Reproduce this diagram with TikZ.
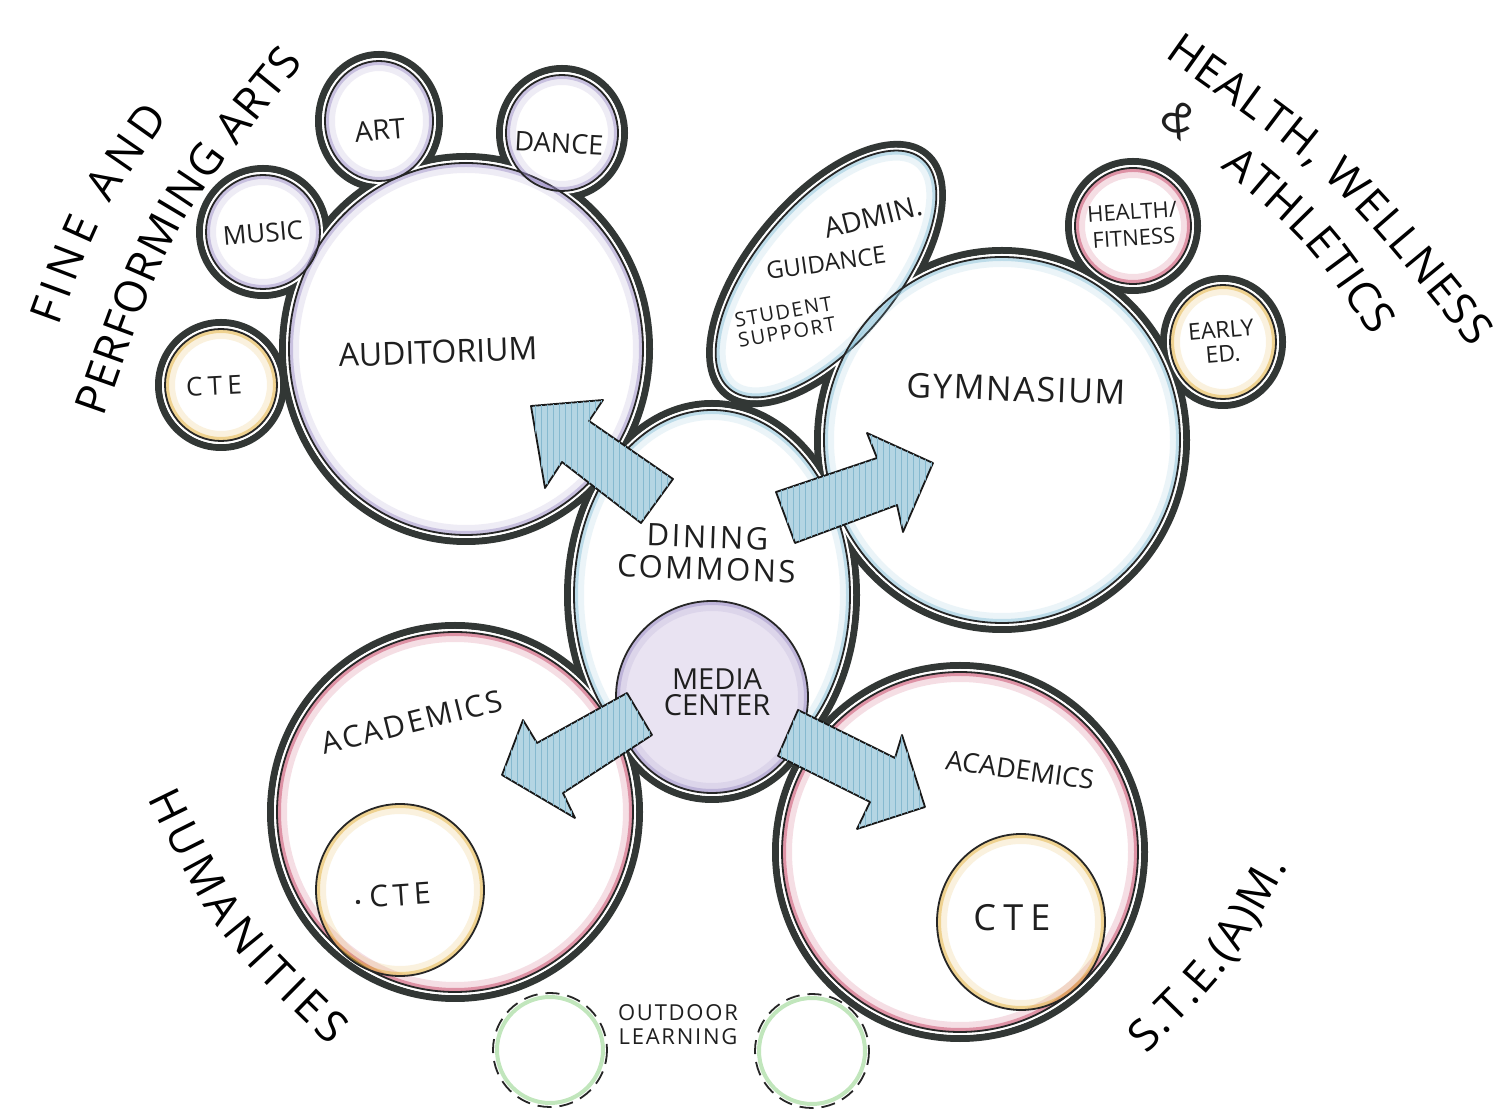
\documentclass[tikz,border=0pt]{standalone}
\usepackage{fontspec}
\setmainfont{Open Sans}
\usetikzlibrary{decorations.text,patterns}
\definecolor{inkdark}{HTML}{323735}
\definecolor{rimpurple}{HTML}{9A8CC6}
\definecolor{rimblue}{HTML}{86C0D8}
\definecolor{rimgold}{HTML}{E2AE33}
\definecolor{rimred}{HTML}{C2365A}
\definecolor{rimgreen}{HTML}{98D690}
\definecolor{arrowblue}{HTML}{B4D5E3}
\definecolor{arrowhatch}{HTML}{86B9CF}
\definecolor{mediafill}{HTML}{E9E3F2}
\tikzset{
  band/.style={draw=inkdark, line width=3.5pt},
  arrowshape/.style={fill=arrowblue, draw=black!90, line width=0.9pt, line join=round,
     postaction={pattern=vertical lines, pattern color=arrowhatch}},
  lab/.style={text=black!88, inner sep=0pt, align=center},
}
\newcommand{\OutBand}[4]{\draw[band, shift={(#1)}, rotate=#4] (0,0) ellipse [x radius={#2+6.5}, y radius={#3+6.5}];}
\newcommand{\OutFill}[4]{\fill[white, shift={(#1)}, rotate=#4] (0,0) ellipse [x radius={#2+3}, y radius={#3+3}];}
\newcommand{\Room}[5]{%
  \begin{scope}[shift={(#1)}, rotate=#4]
    \begin{scope}
      \clip (0,0) ellipse [x radius=#2, y radius=#3];
      \draw[#5, line width=10pt, opacity=.16] (0,0) ellipse [x radius=#2, y radius=#3];
      \draw[#5, line width=4pt, opacity=.45] (0,0) ellipse [x radius=#2, y radius=#3];
    \end{scope}
    \draw[black!85, line width=0.9pt] (0,0) ellipse [x radius=#2, y radius=#3];
  \end{scope}}
\newcommand{\Outdoor}[2]{%
  \begin{scope}
    \clip (#1) circle [radius=#2];
    \draw[rimgreen, line width=4pt, opacity=.6] (#1) circle [radius=#2];
  \end{scope}
  \draw[black!85, line width=0.9pt, dash pattern=on 7pt off 4pt] (#1) circle [radius={#2+2}];}
\newcommand{\bigfont}{\fontsize{22}{22}\selectfont}
\newcommand{\ArcText}[4]{\path[decorate, decoration={text along path, text={|\bigfont|#1}, text align={fit to path}}] (#2) .. controls (#3) .. (#4);}
\begin{document}
\begin{tikzpicture}[x=0.5pt,y=-0.5pt]
\useasboundingbox (0,0) rectangle (1511,1111);
\fill[white] (0,0) rectangle (1511,1111);

% ---- outer outline of the building (union of rooms)
\OutBand{466,349}{177}{186}{0}
\OutBand{263,232}{57}{57}{0}
\OutBand{379,121}{54}{60}{0}
\OutBand{562,133}{56}{58}{0}
\OutBand{221,385}{56}{56}{0}
\OutBand{826,274}{150}{70}{50}
\OutBand{1002,440}{178}{183}{0}
\OutBand{1133,226}{58}{58}{0}
\OutBand{1223,342}{53}{57}{0}
\OutBand{712,595}{138}{185}{0}
\OutBand{712,697}{96}{96}{0}
\OutBand{455,812}{178}{180}{0}
\OutBand{960,852}{178}{180}{0}

\OutFill{466,349}{177}{186}{0}
\OutFill{263,232}{57}{57}{0}
\OutFill{379,121}{54}{60}{0}
\OutFill{562,133}{56}{58}{0}
\OutFill{221,385}{56}{56}{0}
\OutFill{826,274}{150}{70}{50}
\OutFill{1002,440}{178}{183}{0}
\OutFill{1133,226}{58}{58}{0}
\OutFill{1223,342}{53}{57}{0}
\OutFill{712,595}{138}{185}{0}
\OutFill{712,697}{96}{96}{0}
\OutFill{455,812}{178}{180}{0}
\OutFill{960,852}{178}{180}{0}

% ---- rooms
\Room{466,349}{177}{186}{0}{rimpurple}
\Room{263,232}{57}{57}{0}{rimpurple}
\Room{379,121}{54}{60}{0}{rimpurple}
\Room{562,133}{56}{58}{0}{rimpurple}
\Room{221,385}{56}{56}{0}{rimgold}
\Room{826,274}{150}{70}{50}{rimblue}
\Room{1002,440}{178}{183}{0}{rimblue}
\Room{1133,226}{58}{58}{0}{rimred}
\Room{1223,342}{53}{57}{0}{rimgold}
\Room{712,595}{138}{185}{0}{rimblue}
\Room{455,812}{178}{180}{0}{rimred}
\Room{960,852}{178}{180}{0}{rimred}
\Room{400,890}{84}{86}{0}{rimgold}
\Room{1021,922}{84}{88}{0}{rimgold}
\fill[mediafill] (712,697) circle [radius=96];
\Room{712,697}{96}{96}{0}{rimpurple}

% ---- outdoor learning
\Outdoor{550,1050}{55}
\Outdoor{812,1051}{55}

% ---- arrows from the commons
\draw[arrowshape] (531,406) -- (603,400) -- (589,421) -- (673,479) -- (641,523) -- (562,462) -- (545,488) -- cycle;
\draw[arrowshape] (776,492) -- (877,458) -- (867,433) -- (933,463) -- (903,532) -- (897,505) -- (795,543) -- cycle;
\draw[arrowshape] (627,693) -- (537,743) -- (523,720) -- (502,775) -- (575,818) -- (563,793) -- (652,735) -- cycle;
\draw[arrowshape] (798,710) -- (895,758) -- (902,735) -- (925,807) -- (857,829) -- (870,802) -- (778,756) -- cycle;

% ---- room labels
\node[lab, rotate=5, font=\fontsize{13}{13}\selectfont] (tmusic) at (263,233) {MUSIC};
\node[lab, rotate=5, font=\fontsize{14}{14}\selectfont] (tart) at (380,130) {ART};
\node[lab, rotate=-3, font=\fontsize{13.5}{13.5}\selectfont] (tdance) at (559,143) {DANCE};
\node[lab, rotate=3, font=\fontsize{13}{13}\selectfont\addfontfeatures{LetterSpace=20}] (tctea) at (214,386) {CTE};
\node[lab, rotate=2, font=\fontsize{16}{16}\selectfont] (taud) at (438,352) {AUDITORIUM};
\node[lab, rotate=14, font=\fontsize{14}{14}\selectfont] (tadmin) at (873,217) {ADMIN.};
\node[lab, rotate=8, font=\fontsize{12}{12}\selectfont] (tguid) at (826,263) {GUIDANCE};
\node[lab, rotate=10, font=\fontsize{10}{10.5}\selectfont\addfontfeatures{LetterSpace=8}] (tstud) at (785,322) {STUDENT\\SUPPORT};
\node[lab, rotate=-2, font=\fontsize{17}{17}\selectfont\addfontfeatures{LetterSpace=5}] (tgym) at (1016,389) {GYMNASIUM};
\node[lab, rotate=4, font=\fontsize{11}{13}\selectfont] (thealth) at (1133,225) {HEALTH/\\FITNESS};
\node[lab, rotate=5, font=\fontsize{11.5}{12}\selectfont] (tearly) at (1222,342) {EARLY\\ED.};
\node[lab, rotate=-2, font=\fontsize{15.5}{16}\selectfont\addfontfeatures{LetterSpace=8}] (tdining) at (707,553) {DINING\\COMMONS};
\node[lab, font=\fontsize{14.5}{13}\selectfont] (tmedia) at (717,692) {MEDIA\\CENTER};
\node[lab, rotate=14, font=\fontsize{15}{15}\selectfont\addfontfeatures{LetterSpace=8}] (tacadl) at (412,722) {ACADEMICS};
\node[lab, rotate=4, font=\fontsize{15}{15}\selectfont\addfontfeatures{LetterSpace=15}] (tctel) at (400,895) {CTE};
\fill[black!85] (358,902) circle [radius=2.2];
\node[lab, rotate=-8, font=\fontsize{13.5}{13.5}\selectfont] (tacadr) at (1020,770) {ACADEMICS};
\node[lab, font=\fontsize{18}{18}\selectfont\addfontfeatures{LetterSpace=20}] (tcter) at (1012,918) {CTE};
\node[lab, font=\fontsize{11}{12}\selectfont\addfontfeatures{LetterSpace=8}] (toutdoor) at (678,1025) {OUTDOOR\\LEARNING};

% ---- department labels around the plan
\ArcText{FINE AND}{59,327}{100,214}{169,117}
\ArcText{PERFORMING ARTS}{104,418}{172.6,222.9}{304,63}
\ArcText{HEALTH, WELLNESS}{1164,57}{1334.6,177.7}{1472,348}
\node[lab, rotate=-42, font=\bigfont] (tamp) at (1180,120) {\&};
\ArcText{ATHLETICS}{1220,168}{1306,240}{1372,337}
\ArcText{HUMANITIES}{148,798}{215,935}{330,1046}
\ArcText{S.T.E.(A)M.}{1146,1054}{1230.3,970.6}{1288,866}
\end{tikzpicture}
\end{document}
